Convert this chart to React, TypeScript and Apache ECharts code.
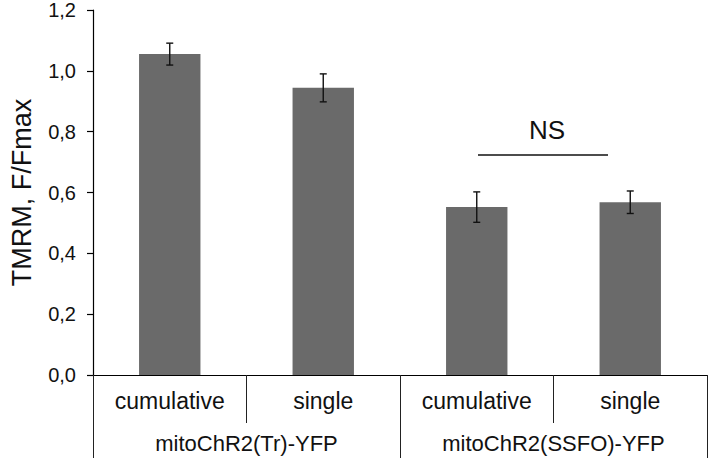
import React, { useEffect, useRef } from "react";
import * as echarts from "echarts";

const categories = ["cumulative", "single", "cumulative", "single"];
const groups = ["mitoChR2(Tr)-YFP", "mitoChR2(SSFO)-YFP"];
const means = [1.055, 0.944, 0.552, 0.568];
const errors = [0.036, 0.046, 0.05, 0.037];
const yTicks = { min: 0, max: 1.2, interval: 0.2 };
const annotation = "NS";

const FONT = "'Liberation Sans', Arial, sans-serif";

export default function App() {
  const ref = useRef<HTMLDivElement>(null);
  useEffect(() => {
    document.body.style.margin = "0";
    if (!ref.current) return;
    const chart = echarts.init(ref.current, undefined, { renderer: "svg" });
    const errData = means.map((m, i) => [i, m - errors[i], m + errors[i]]);
    chart.setOption({
      animation: false,
      backgroundColor: "#ffffff",
      textStyle: { fontFamily: FONT },
      grid: { left: 86, right: 2, top: 10, bottom: 83, containLabel: false },
      xAxis: [
        {
          type: "category",
          data: categories,
          position: "bottom",
          axisLine: { show: true, lineStyle: { color: "#000", width: 1.2 } },
          axisTick: { show: true, length: 48, interval: 0, lineStyle: { color: "#222", width: 1 } },
          axisLabel: {
            show: true,
            interval: 0,
            margin: 26,
            verticalAlign: "middle",
            fontSize: 23,
            color: "#111",
            fontFamily: FONT,
          },
        },
        {
          type: "category",
          data: groups,
          position: "bottom",
          offset: 0,
          axisLine: { show: false },
          axisTick: { show: true, length: 83, interval: 0, lineStyle: { color: "#222", width: 1 } },
          axisLabel: {
            show: true,
            interval: 0,
            margin: 68,
            verticalAlign: "middle",
            fontSize: 22,
            color: "#111",
            fontFamily: FONT,
          },
        },
      ],
      yAxis: {
        type: "value",
        min: yTicks.min,
        max: yTicks.max,
        interval: yTicks.interval,
        name: "TMRM, F/Fmax",
        nameLocation: "middle",
        nameGap: 58,
        nameTextStyle: { fontSize: 27, color: "#111", fontFamily: FONT },
        axisLine: { show: true, lineStyle: { color: "#000", width: 1.2 } },
        axisTick: { show: true, length: 6, lineStyle: { color: "#000", width: 1.2 } },
        splitLine: { show: false },
        axisLabel: {
          margin: 17,
          fontSize: 20,
          color: "#111",
          fontFamily: FONT,
          formatter: (v: number) => v.toFixed(1).replace(".", ","),
        },
      },
      series: [
        {
          type: "bar",
          xAxisIndex: 0,
          data: means,
          barWidth: "40%",
          itemStyle: { color: "#6a6a6a" },
        },
        {
          type: "custom",
          xAxisIndex: 0,
          data: errData,
          z: 10,
          renderItem: (params: any, api: any) => {
            const x = api.value(0);
            const lo = api.coord([x, api.value(1)]);
            const hi = api.coord([x, api.value(2)]);
            const w = 3.5;
            const style = { stroke: "#111", lineWidth: 1.4 };
            return {
              type: "group",
              children: [
                { type: "line", shape: { x1: hi[0], y1: hi[1], x2: lo[0], y2: lo[1] }, style },
                { type: "line", shape: { x1: hi[0] - w, y1: hi[1], x2: hi[0] + w, y2: hi[1] }, style },
                { type: "line", shape: { x1: lo[0] - w, y1: lo[1], x2: lo[0] + w, y2: lo[1] }, style },
              ],
            };
          },
        },
      ],
      graphic: [
        {
          type: "line",
          shape: { x1: 478, y1: 155, x2: 608, y2: 155 },
          style: { stroke: "#111", lineWidth: 1.5 },
        },
        {
          type: "text",
          x: 547,
          y: 130,
          style: {
            text: annotation,
            fontSize: 26,
            fontFamily: FONT,
            fill: "#111",
            align: "center",
            verticalAlign: "middle",
          },
        },
      ],
    });
    return () => chart.dispose();
  }, []);
  return <div ref={ref} style={{ width: 709, height: 458 }} />;
}
